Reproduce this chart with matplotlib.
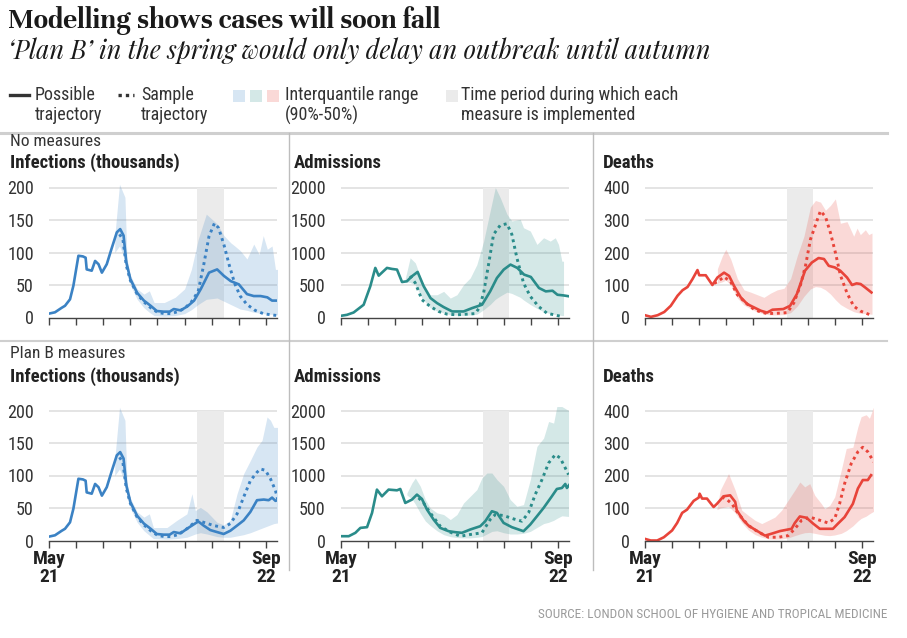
import matplotlib
matplotlib.use('Agg')
import matplotlib.pyplot as plt
from matplotlib.lines import Line2D
from matplotlib.patches import Rectangle

# ---------------- data (x = months since May 2021) ----------------
# Infections (thousands) - shared early part
inf_early_m = [0, 0.44, 0.94, 1.18, 1.55, 1.8, 2.17, 2.5, 2.7, 2.78, 3.15, 3.4, 3.65, 3.9, 4.26,
               4.6, 5.0, 5.25, 5.5, 5.7, 6.0, 6.5, 7.0, 7.5, 7.95, 8.45, 8.9, 9.2]
inf_early_v = [6, 8, 15, 18, 28, 49, 95, 94, 92, 74, 72, 87, 82, 69, 82,
               105, 131, 136, 126, 85, 59, 38, 26, 18, 10, 9, 9, 13]
inf_nm_late_m = [9.7, 10.2, 10.7, 11.2, 11.8, 12.4, 12.9, 13.4, 14.0, 14.6, 15.1, 15.6, 16.1, 16.45, 16.85]
inf_nm_late_v = [11, 17, 26, 44, 69, 74, 64, 56, 51, 36, 33, 33, 31, 26, 26]
inf_pb_late_m = [9.7, 10.17, 10.54, 10.91, 11.03, 11.4, 11.9, 12.39, 12.88, 13.37, 13.87, 14.36,
                 14.85, 15.34, 15.84, 16.2, 16.45, 16.7, 16.85]
inf_pb_late_v = [11, 18, 23, 28, 29, 23, 16, 13, 10, 15, 23, 31, 44, 62, 63, 62, 66, 61, 62]

inf_samp_early_m = [5.2, 5.45, 5.7, 6.0, 6.5, 7.0, 7.5, 8.0, 8.5, 9.0, 9.5]
inf_samp_early_v = [128, 120, 80, 57, 36, 24, 15, 8, 6, 6, 9]
inf_nm_samp_m = [10.0, 10.5, 11.0, 11.4, 11.8, 12.2, 12.5, 12.9, 13.3, 13.7, 14.1, 14.6, 15.2, 15.8, 16.4, 16.85]
inf_nm_samp_v = [14, 24, 40, 80, 125, 145, 138, 112, 80, 52, 33, 20, 11, 6, 4, 3]
inf_pb_samp_m = [10.17, 10.91, 11.4, 12.14, 12.88, 13.37, 13.87, 14.36, 14.85, 15.34, 15.59, 15.96, 16.33, 16.7, 16.85]
inf_pb_samp_v = [18, 31, 28, 23, 20, 26, 41, 67, 92, 105, 110, 108, 95, 77, 64]

inf_band_early_m = [4.85, 5.2, 5.5, 5.6, 5.75, 6.0, 6.5, 7.0, 7.4]
inf_band_early_lo = [100, 110, 95, 85, 75, 50, 28, 15, 8]
inf_band_early_hi = [125, 205, 190, 185, 90, 65, 44, 36, 41]
inf_nm_band_m = [7.75, 8.5, 9.3, 10.0, 10.5, 11.0, 11.6, 12.4, 12.9, 13.4, 13.7, 14.1, 14.6,
                 15.1, 15.5, 15.8, 16.1, 16.45, 16.7, 16.85]
inf_nm_band_lo = [3, 2, 3, 6, 12, 20, 28, 30, 25, 20, 17, 13, 11, 8, 7, 6, 5, 5, 4, 4]
inf_nm_band_hi = [23, 23, 31, 44, 74, 120, 159, 144, 126, 115, 110, 103, 90, 113, 97, 126, 105, 110, 74, 74]
inf_pb_band_m = [7.7, 8.7, 9.43, 10.17, 10.54, 10.79, 11.16, 11.65, 12.39, 12.88, 13.37, 13.87,
                 14.36, 14.85, 15.34, 15.71, 16.08, 16.33, 16.58, 16.85]
inf_pb_band_lo = [3, 2, 3, 5, 8, 10, 12, 10, 6, 5, 5, 7, 9, 12, 16, 19, 22, 24, 26, 27]
inf_pb_band_hi = [20, 20, 31, 41, 72, 46, 51, 44, 28, 24, 31, 72, 103, 123, 144, 154, 190, 185, 174, 174]

# Admissions - no measures
adm_nm_m = [0, 0.44, 0.93, 1.67, 2.16, 2.53, 2.78, 3.39, 3.76, 4.13, 4.5, 4.86, 5.23, 5.65, 6.1,
            6.6, 7.08, 7.57, 8.2, 9.04, 9.66, 10.4, 11.0, 11.5, 12.0, 12.5, 13.0, 13.5, 14.0,
            14.6, 15.1, 15.6, 15.96, 16.4, 16.85]
adm_nm_v = [26, 41, 77, 196, 480, 763, 644, 763, 747, 737, 546, 557, 634, 701, 480,
            299, 222, 160, 93, 93, 144, 196, 402, 608, 737, 814, 763, 660, 624,
            454, 402, 412, 350, 340, 325]
adm_nm_samp_m = [5.1, 5.48, 5.97, 6.58, 7.2, 7.81, 8.55, 9.29, 9.9, 10.2, 10.52, 10.88, 11.25, 11.74,
                 12.24, 12.6, 12.97, 13.46, 13.96, 14.57, 15.18, 15.92, 16.29]
adm_nm_samp_v = [640, 531, 273, 170, 93, 52, 41, 52, 60, 150, 380, 814, 1278, 1418,
                 1443, 1278, 918, 531, 325, 170, 67, 31, 15]
adm_nm_band_m = [4.74, 5.1, 5.48, 5.97, 6.58, 7.08, 7.57, 8.06, 8.55, 9.04, 9.53, 10.02, 10.52, 11.0,
                 11.38, 11.74, 12.24, 12.6, 13.22, 13.46, 13.96, 14.45, 14.94, 15.43, 15.8, 16.04, 16.29, 16.41]
adm_nm_band_lo = [550, 540, 500, 300, 150, 100, 70, 40, 35, 30, 40, 50, 120, 200,
                  280, 330, 390, 370, 310, 270, 200, 140, 90, 60, 45, 40, 30, 30]
adm_nm_band_hi = [600, 918, 840, 557, 350, 350, 402, 299, 350, 505, 608, 814, 1175, 1639,
                  2000, 1845, 1588, 1485, 1510, 1381, 1330, 1124, 1227, 1175, 1227, 1124, 866, 866]

# Admissions - Plan B
adm_pb_m = [0, 0.57, 1.06, 1.43, 1.92, 2.29, 2.65, 3.02, 3.51, 4.13, 4.37, 4.74, 5.23, 5.6, 5.97,
            6.34, 6.83, 7.32, 7.94, 8.43, 8.92, 9.53, 10.27, 10.64, 11.13, 11.5, 11.99, 12.6,
            13.46, 13.96, 14.45, 14.94, 15.55, 15.92, 16.29, 16.54, 16.66, 16.85]
adm_pb_v = [66, 66, 118, 194, 205, 425, 783, 680, 783, 772, 793, 578, 629, 706, 639,
            476, 322, 194, 143, 128, 118, 169, 220, 297, 450, 425, 271, 205,
            143, 246, 373, 501, 680, 793, 808, 870, 808, 860]
adm_pb_samp_m = [5.72, 6.09, 6.58, 7.32, 8.06, 8.8, 9.53, 10.39, 11.0, 11.38, 11.99, 12.73, 13.34,
                 13.83, 14.32, 14.82, 15.31, 15.8, 16.17, 16.54, 16.78]
adm_pb_samp_v = [655, 578, 425, 220, 128, 66, 92, 118, 322, 399, 384, 332, 297,
                 425, 706, 936, 1192, 1320, 1269, 1115, 1013]
adm_pb_band_m = [4.86, 5.23, 5.48, 5.85, 6.22, 6.58, 7.08, 7.57, 8.06, 8.55, 9.04, 9.53, 10.02, 10.39,
                 10.76, 11.13, 11.5, 11.99, 12.48, 12.97, 13.46, 13.96, 14.45, 14.94, 15.31, 15.68,
                 15.92, 16.29, 16.78]
adm_pb_band_lo = [700, 640, 560, 420, 300, 230, 150, 90, 60, 45, 40, 40, 50, 60,
                  100, 140, 150, 120, 100, 100, 110, 140, 200, 260, 280, 310, 340, 380, 370]
adm_pb_band_hi = [731, 885, 962, 834, 629, 501, 425, 399, 322, 399, 578, 680, 783, 962,
                  1038, 1038, 936, 834, 629, 527, 552, 936, 1448, 1575, 1831, 1806, 2061, 2061, 2000]

# Deaths - no measures
dth_nm_m = [0, 0.44, 0.93, 1.42, 1.9, 2.4, 2.77, 3.14, 3.5, 3.87, 4.0, 4.48, 4.97, 5.34, 5.83,
            6.2, 6.57, 7.06, 7.55, 8.04, 8.53, 9.0, 9.4, 10.2, 10.7, 11.2, 11.8, 12.3, 12.8, 13.2,
            13.55, 14.0, 14.4, 14.9, 15.27, 15.6, 15.9, 16.25, 16.7]
dth_nm_v = [7, 2, 7, 17, 36, 67, 84, 94, 118, 146, 130, 130, 100, 123, 138,
            128, 97, 62, 41, 31, 21, 15, 24, 26, 36, 72, 144, 169, 183, 180,
            159, 154, 144, 123, 100, 105, 103, 92, 77]
dth_nm_samp_m = [5.1, 5.34, 5.83, 6.32, 6.81, 7.43, 8.04, 8.53, 9.02, 9.75, 10.49, 10.98, 11.47,
                 11.84, 12.2, 12.7, 12.94, 13.31, 13.68, 14.04, 14.41, 14.9, 15.39, 15.88, 16.62]
dth_nm_samp_v = [105, 110, 125, 110, 70, 45, 25, 17, 12, 13, 15, 45, 100,
                 160, 240, 300, 328, 310, 260, 200, 130, 75, 35, 20, 8]
dth_nm_band_m = [5.34, 5.71, 5.96, 6.32, 6.81, 7.3, 7.79, 8.28, 8.77, 9.26, 9.75, 10.25, 10.74,
                 11.23, 11.72, 12.2, 12.57, 12.94, 13.31, 13.68, 14.04, 14.41, 14.9, 15.39,
                 15.64, 15.88, 16.25, 16.5, 16.74]
dth_nm_band_lo = [105, 110, 115, 100, 60, 38, 27, 17, 11, 8, 8, 9, 15,
                  35, 65, 88, 95, 93, 85, 72, 55, 40, 28, 18, 15, 13, 12, 11, 10]
dth_nm_band_hi = [150, 190, 210, 180, 120, 85, 78, 70, 62, 75, 85, 90, 120,
                  190, 250, 340, 360, 355, 330, 345, 365, 290, 295, 250, 275, 255, 270, 255, 260]

# Deaths - Plan B
dth_pb_m = [0, 0.42, 0.9, 1.39, 2.0, 2.37, 2.74, 3.1, 3.59, 3.96, 4.03, 4.21, 4.57, 5.06, 5.31,
            5.79, 6.28, 6.65, 6.77, 7.26, 7.63, 8.12, 8.85, 9.34, 9.95, 10.81, 11.05, 11.42, 11.91,
            12.4, 12.89, 13.86, 14.23, 14.72, 15.33, 15.7, 16.06, 16.43, 16.67]
dth_pb_v = [5, 0, 0, 10, 31, 54, 85, 95, 122, 132, 144, 129, 129, 103, 113,
            136, 139, 119, 93, 62, 46, 33, 15, 21, 29, 36, 54, 74, 70,
            52, 36, 36, 52, 72, 113, 160, 186, 186, 201]
dth_pb_samp_m = [5.67, 6.04, 6.41, 6.89, 7.63, 8.36, 9.1, 9.83, 10.56, 11.05, 11.54, 12.15, 12.76,
                 13.5, 13.99, 14.35, 14.72, 15.21, 15.7, 16.06, 16.43, 16.87]
dth_pb_samp_v = [134, 126, 113, 82, 46, 26, 10, 10, 15, 36, 62, 72, 64,
                 54, 67, 113, 175, 237, 273, 287, 273, 242]
dth_pb_band_m = [5.31, 5.55, 6.16, 6.65, 7.14, 7.63, 8.12, 8.61, 9.1, 9.58, 10.07, 10.56, 11.05,
                 11.42, 11.78, 12.15, 12.52, 13.01, 13.25, 13.62, 13.99, 14.47, 14.84, 15.33,
                 15.7, 15.94, 16.31, 16.55, 16.87]
dth_pb_band_lo = [95, 100, 105, 85, 55, 32, 18, 10, 5, 4, 5, 8, 15,
                  20, 24, 25, 22, 18, 16, 15, 17, 22, 30, 45, 60, 68, 75, 82, 90]
dth_pb_band_hi = [100, 155, 206, 155, 93, 77, 62, 52, 62, 72, 93, 124, 155,
                  180, 165, 175, 139, 113, 98, 108, 134, 216, 283, 287, 350, 381, 387, 376, 412]

# measure periods (months since May 2021)
period_inf = (10.95, 12.9)
period_other = (10.45, 12.42)

row_labels = ["No measures", "Plan B measures"]
panel_titles = ["Infections (thousands)", "Admissions", "Deaths"]
y_ticks = [[0, 50, 100, 150, 200], [0, 500, 1000, 1500, 2000], [0, 100, 200, 300, 400]]
x_tick_labels = ["May\n21", "Sep\n22"]
colors = ["#3b82c4", "#2a8c8a", "#e8443a"]

# ---------------- figure ----------------
W, H = 907, 638
SANS = ['Roboto Condensed', 'Barlow Semi Condensed', 'Archivo Narrow', 'DejaVu Sans']
NUM = ['Roboto Condensed', 'Liberation Sans', 'DejaVu Sans']
TITLE_SERIF = ['Unna', 'Crimson Text', 'Liberation Serif', 'DejaVu Serif']
SUB_SERIF = ['Playfair Display', 'Liberation Serif', 'DejaVu Serif']
plt.rcParams['font.family'] = SANS
fig = plt.figure(figsize=(W / 100, H / 100), dpi=100)
fig.patch.set_facecolor('white')


def fx(x):
    return x / W


def fy(y):
    return 1 - y / H


# Title / subtitle
fig.text(fx(8), fy(21), "Modelling shows cases will soon fall", family=TITLE_SERIF,
         fontweight='bold', fontsize=21, color='#1a1a1a', va='center', ha='left')
fig.text(fx(8), fy(51), "\u2018Plan B\u2019 in the spring would only delay an outbreak until autumn",
         family=SUB_SERIF, style='italic', fontsize=18.3, color='#1a1a1a', va='center', ha='left')

# Legend
leg_fs = 13
fig.add_artist(Line2D([fx(10), fx(29)], [fy(95), fy(95)], color='#333333', lw=2.4))
fig.add_artist(Line2D([fx(118), fx(134)], [fy(95), fy(95)], color='#333333', lw=2.4,
                      ls=(0, (1, 1.2))))
for (x, t1, t2) in [(35, "Possible", "trajectory"), (141, "Sample", "trajectory"),
                    (285, "Interquantile range", "(90%-50%)"),
                    (461, "Time period during which each", "measure is implemented")]:
    fig.text(fx(x), fy(95), t1, fontsize=leg_fs, color='#333333', va='center', ha='left')
    fig.text(fx(x), fy(115), t2, fontsize=leg_fs, color='#333333', va='center', ha='left')
for i, c in enumerate(colors):
    fig.add_artist(Rectangle((fx(233 + 17 * i), fy(102)), 12 / W, 12 / H, color=c, alpha=0.2, lw=0,
                             transform=fig.transFigure))
fig.add_artist(Rectangle((fx(446), fy(102)), 12 / W, 12 / H, color='#ebebeb', lw=0,
                         transform=fig.transFigure))

# separators
fig.add_artist(Line2D([0, fx(887)], [fy(133), fy(133)], color='#cfcfcf', lw=2.2))
fig.add_artist(Line2D([0, fx(887)], [fy(341), fy(341)], color='#cfcfcf', lw=1.5))
for xv in (289, 593):
    fig.add_artist(Line2D([fx(xv), fx(xv)], [fy(133), fy(570)], color='#bdbdbd', lw=1))

# panels
col_x0 = [49, 341, 645]
row_zero = [317.5, 540.5]
px_per_month = 13.56
xmax = 16.85
grid_px = 130.0

data = {
    (0, 0): (inf_early_m + inf_nm_late_m, inf_early_v + inf_nm_late_v,
             inf_samp_early_m + inf_nm_samp_m, inf_samp_early_v + inf_nm_samp_v,
             inf_band_early_m + inf_nm_band_m, inf_band_early_lo + inf_nm_band_lo,
             inf_band_early_hi + inf_nm_band_hi),
    (1, 0): (inf_early_m + inf_pb_late_m, inf_early_v + inf_pb_late_v,
             inf_samp_early_m + inf_pb_samp_m, inf_samp_early_v + inf_pb_samp_v,
             inf_band_early_m + inf_pb_band_m, inf_band_early_lo + inf_pb_band_lo,
             inf_band_early_hi + inf_pb_band_hi),
    (0, 1): (adm_nm_m, adm_nm_v, adm_nm_samp_m, adm_nm_samp_v, adm_nm_band_m, adm_nm_band_lo, adm_nm_band_hi),
    (1, 1): (adm_pb_m, adm_pb_v, adm_pb_samp_m, adm_pb_samp_v, adm_pb_band_m, adm_pb_band_lo, adm_pb_band_hi),
    (0, 2): (dth_nm_m, dth_nm_v, dth_nm_samp_m, dth_nm_samp_v, dth_nm_band_m, dth_nm_band_lo, dth_nm_band_hi),
    (1, 2): (dth_pb_m, dth_pb_v, dth_pb_samp_m, dth_pb_samp_v, dth_pb_band_m, dth_pb_band_lo, dth_pb_band_hi),
}

title_x = [10, 294, 603]
for r in range(2):
    label_y = 142 if r == 0 else 354
    fig.text(fx(10), fy(label_y), row_labels[r], fontsize=12.5, color='#333333', va='center', ha='left')
    for c in range(3):
        ty = 163 if r == 0 else 377
        fig.text(fx(title_x[c]), fy(ty), panel_titles[c], fontsize=13.5, fontweight='bold',
                 color='#222222', va='center', ha='left')
        top = y_ticks[c][-1]
        ymax = top * 1.1
        x0 = col_x0[c]
        z = row_zero[r]
        ax = fig.add_axes([fx(x0), (H - z) / H, xmax * px_per_month / W, grid_px * 1.1 / H])
        ax.set_xlim(0, xmax)
        ax.set_ylim(0, ymax)
        for s in ('top', 'right', 'left'):
            ax.spines[s].set_visible(False)
        ax.spines['bottom'].set_color('#444444')
        ax.spines['bottom'].set_linewidth(1.0)
        ax.spines['bottom'].set_zorder(5)
        for t in y_ticks[c][1:]:
            ax.axhline(t, color='#e4e4e4', lw=1.4, zorder=0)
        per = period_inf if c == 0 else period_other
        ax.fill_between(per, 0, top, color='#ebebeb', lw=0, zorder=0.8)
        m, v, sm, sv, bm, blo, bhi = data[(r, c)]
        col = colors[c]
        ax.fill_between(bm, blo, bhi, color=col, alpha=0.2, lw=0, zorder=1)
        ax.plot(sm, sv, color=col, lw=2.1, ls=(0, (1, 1.3)), zorder=3)
        ax.plot(m, v, color=col, lw=1.9, zorder=4, solid_joinstyle='round')
        ax.set_yticks(y_ticks[c])
        ax.set_yticklabels([str(t) for t in y_ticks[c]], family=NUM, fontsize=13, color='#333333')
        ax.tick_params(axis='y', length=0, pad=11)
        ax.set_xticks(list(range(0, 17, 2)))
        ax.tick_params(axis='x', length=5, width=1, color='#444444', direction='out', pad=2)
        if r == 1:
            labs = [x_tick_labels[0]] + [''] * 7 + [x_tick_labels[1]]
            ax.set_xticklabels(labs, fontsize=14, fontweight='bold', color='#222222', linespacing=1.0)
        else:
            ax.set_xticklabels([''] * 9)
        ax.patch.set_alpha(0)

fig.text(fx(887), fy(614), "SOURCE: LONDON SCHOOL OF HYGIENE AND TROPICAL MEDICINE",
         fontsize=9.5, color='#9a9a9a', va='center', ha='right')

fig.savefig('out.png', dpi=100, facecolor='white')
